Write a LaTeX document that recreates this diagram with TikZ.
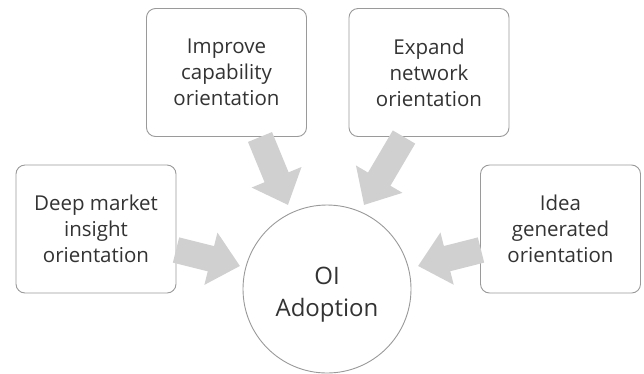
\documentclass[tikz,border=0pt]{standalone}
\usepackage{fontspec}
\setmainfont{Open Sans}
\usetikzlibrary{arrows.meta}
\definecolor{boxline}{HTML}{9A9A9A}
\definecolor{arrowgray}{HTML}{D0D0D0}
\definecolor{txt}{HTML}{333333}
\begin{document}
\begin{tikzpicture}[x=1pt,y=-1pt,
  box/.style={draw=boxline, line width=0.9pt, rounded corners=9pt, fill=white,
    minimum width=160pt, minimum height=128pt, align=center, text=txt,
    font=\fontsize{20.5}{26}\selectfont, inner sep=0pt},
  hub/.style={draw=boxline, line width=0.9pt, circle, fill=white, minimum size=168pt,
    align=center, text=txt, font=\fontsize{24}{32}\selectfont, inner sep=0pt},
  bigarrow/.style={draw=arrowgray, line width=26pt,
    -{Triangle[width=52pt,length=30pt]}}]
\useasboundingbox (0,0) rectangle (644,373);
\node[box] (b1) at (96,229) {Deep market\\insight\\orientation};
\node[box] (b2) at (226.5,72.5) {Improve\\capability\\orientation};
\node[box] (b3) at (429,72.5) {Expand\\network\\orientation};
\node[box] (b4) at (560.5,229) {Idea\\generated\\orientation};
\node[hub] (c) at (327,289) {\rule{0pt}{29pt}OI\\Adoption};
\coordinate (t1) at (240,266);
\coordinate (t2) at (288,205);
\coordinate (t3) at (364,205);
\coordinate (t4) at (418,266);
\coordinate (s1) at (176,250);
\coordinate (s2) at (260,137);
\coordinate (s3) at (404,137);
\coordinate (s4) at (481,250);
\draw[bigarrow] (s1) -- (t1);
\draw[bigarrow] (s2) -- (t2);
\draw[bigarrow] (s3) -- (t3);
\draw[bigarrow] (s4) -- (t4);
\end{tikzpicture}
\end{document}
